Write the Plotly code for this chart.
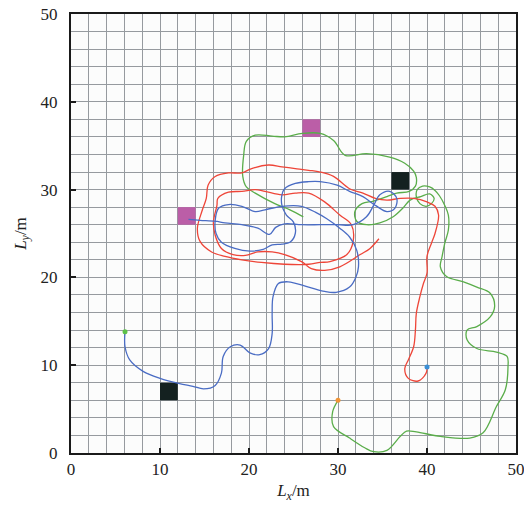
import plotly.graph_objects as go

# ---------------- data ----------------
blue_x = [6.07, 6.07, 6.6, 8.1, 10.0, 12.2, 13.7, 14.9, 16.2, 16.9, 17.1, 17.9, 19.0, 20.1, 21.2, 22.2, 22.6, 22.6,
          22.7, 23.3, 24.4, 26.7, 28.5, 29.8, 31.3, 32.0, 32.3, 32.1, 31.3, 30.2, 28.7, 27.5, 25.9, 23.7, 21.8, 20.7,
          19.2, 17.7, 16.6, 16.2, 16.3, 16.9, 18.4, 20.1, 21.6, 22.6, 23.7, 24.6, 25.2, 25.0, 24.2, 23.7, 23.7, 24.0,
          25.2, 26.7, 28.0, 29.9, 31.3, 32.8, 34.2, 35.5, 36.4, 36.6, 35.8, 34.7, 34.0, 33.2, 31.7, 30.0, 28.0, 25.9,
          24.0, 23.0, 22.3, 21.0, 19.2, 17.3, 16.2, 14.5, 13.2]
blue_y = [13.8, 12.1, 10.6, 9.3, 8.5, 7.9, 7.6, 7.3, 7.7, 9.1, 11.0, 12.1, 12.3, 11.4, 11.2, 11.9, 13.6, 15.9,
          17.8, 19.3, 19.5, 18.9, 18.4, 18.3, 18.9, 20.0, 21.2, 23.1, 24.6, 25.6, 26.7, 27.4, 28.1, 28.1, 27.7, 27.5,
          28.1, 28.3, 27.9, 26.5, 25.0, 24.0, 23.3, 23.0, 23.2, 23.7, 23.8, 24.0, 25.0, 26.3, 27.1, 28.2, 29.4, 30.1,
          30.7, 30.9, 30.9, 30.5, 29.8, 29.2, 28.2, 27.5, 27.9, 29.0, 29.8, 29.4, 28.2, 26.9, 26.0, 26.0, 26.0, 26.0,
          26.1, 25.7, 24.9, 25.6, 26.0, 26.2, 26.4, 26.5, 26.6]

red_x = [40.0, 39.9, 39.0, 37.9, 37.5, 37.9, 38.5, 38.7, 38.8, 39.2, 39.6, 40.0, 40.0, 40.5, 40.9, 41.3, 40.9, 40.0,
         38.5, 37.0, 35.5, 34.2, 32.8, 31.3, 29.5, 28.0, 26.7, 25.2, 23.7, 22.2, 20.3, 19.2, 17.7, 16.2, 15.4, 15.2,
         14.7, 14.2, 14.5, 15.8, 17.3, 19.2, 21.4, 24.0, 26.7, 28.0, 29.1, 31.0, 31.7, 31.5, 30.2, 28.5, 26.7, 25.2,
         23.7, 21.8, 20.7, 19.2, 17.7, 16.5, 16.4, 16.0, 16.2, 16.9, 18.2, 19.6, 21.0, 22.6, 24.0, 25.9, 27.0, 28.5,
         30.2, 32.5, 33.6, 34.6]
red_y = [9.8, 9.1, 8.2, 8.5, 9.6, 10.6, 12.1, 14.0, 15.9, 17.8, 19.3, 20.5, 22.4, 23.9, 25.0, 27.1, 28.1, 28.6,
         29.0, 29.0, 28.8, 29.0, 29.6, 30.1, 31.5, 32.0, 32.2, 32.4, 32.6, 32.8, 32.4, 31.9, 31.9, 31.5, 30.5, 29.0,
         27.5, 25.6, 24.1, 22.9, 22.4, 22.0, 21.7, 21.5, 21.5, 21.7, 21.8, 22.6, 24.1, 26.0, 27.1, 28.6, 29.6, 29.6,
         29.4, 29.8, 30.0, 29.8, 29.7, 29.0, 28.2, 26.3, 24.8, 23.3, 22.6, 22.5, 22.9, 22.9, 22.6, 21.8, 21.0, 20.8,
         21.2, 22.6, 23.3, 24.4]

green_x = [30.0, 29.4, 29.5, 31.3, 33.0, 34.0, 35.5, 37.0, 37.7, 38.8, 41.5, 44.8, 46.3, 47.8, 48.8, 49.1, 49.0,
           47.8, 45.6, 44.5, 44.5, 45.6, 47.1, 47.6, 47.1, 45.6, 44.1, 42.2, 41.5, 41.7, 42.0, 42.4, 42.4, 42.0, 41.4,
           40.9, 40.3, 39.5, 38.9, 38.8, 39.2, 39.9, 40.5, 40.8, 40.3, 39.3, 38.1, 37.3, 36.2, 34.7, 33.2, 32.1, 31.9,
           32.7, 34.0, 35.5, 36.6, 38.0, 38.7, 38.8, 38.5, 37.5, 35.8, 33.2, 30.8, 29.5, 28.0, 26.0, 24.0, 22.6, 20.7,
           19.7, 19.4, 19.3, 19.7, 20.7, 22.9, 24.6, 26.1]
green_y = [6.0, 4.7, 3.0, 1.7, 0.6, 0.15, 0.3, 1.9, 2.5, 2.4, 1.9, 1.7, 2.3, 5.3, 7.2, 9.8, 11.0,
           11.5, 11.9, 12.9, 14.0, 14.4, 15.5, 16.7, 18.2, 18.9, 19.5, 20.1, 21.2, 22.4, 23.9, 25.4, 27.1, 28.2, 29.3,
           29.9, 30.3, 30.4, 30.0, 29.2, 28.4, 28.1, 28.4, 29.0, 29.5, 29.2, 28.8, 27.9, 26.9, 26.2, 26.0, 26.4, 27.5,
           28.4, 28.7, 29.2, 29.6, 29.8, 30.4, 31.4, 32.1, 33.0, 33.7, 34.1, 33.9, 35.6, 36.4, 36.4, 36.0, 36.1, 36.2,
           35.5, 33.9, 31.5, 30.3, 29.6, 28.4, 27.7, 26.9]

# start points (x, y)
start_x = [6.07, 30.0, 40.0]
start_y = [13.8, 6.0, 9.8]

# square cells (centres), side 2 m
target_x = [13.0, 27.0]
target_y = [27.0, 37.0]
obstacle_x = [11.0, 37.0]
obstacle_y = [7.0, 31.0]
cell = 2.0

x_ticks = [0, 10, 20, 30, 40, 50]
y_ticks = [0, 10, 20, 30, 40, 50]

# ---------------- figure ----------------
fig = go.Figure()

shapes = []
for cx, cy in zip(target_x, target_y):
    shapes.append(dict(type="rect", xref="x", yref="y", x0=cx - cell / 2, x1=cx + cell / 2,
                       y0=cy - cell / 2, y1=cy + cell / 2, fillcolor="#bb5ea7",
                       line=dict(width=0), layer="between"))
for cx, cy in zip(obstacle_x, obstacle_y):
    shapes.append(dict(type="rect", xref="x", yref="y", x0=cx - cell / 2, x1=cx + cell / 2,
                       y0=cy - cell / 2, y1=cy + cell / 2, fillcolor="#142120",
                       line=dict(width=0), layer="between"))

fig.add_trace(go.Scatter(x=green_x, y=green_y, mode="lines",
                         line=dict(color="#5aad4a", width=1.3, shape="spline", smoothing=1.0)))
fig.add_trace(go.Scatter(x=red_x, y=red_y, mode="lines",
                         line=dict(color="#ee4538", width=1.3, shape="spline", smoothing=1.0)))
fig.add_trace(go.Scatter(x=blue_x, y=blue_y, mode="lines",
                         line=dict(color="#4a6cc4", width=1.3, shape="spline", smoothing=1.0)))
fig.add_trace(go.Scatter(x=start_x, y=start_y, mode="markers",
                         marker=dict(color=["#5cc048", "#f09436", "#3a8fd6"], size=5, line=dict(width=0))))

grid_col = "#969a9f"
tick_font = dict(family="Liberation Serif", size=17, color="#222")
title_font = dict(family="Liberation Serif", size=17, color="#222")
axis_common = dict(
    range=[0, 50], tickmode="array",
    showgrid=True, gridcolor=grid_col, gridwidth=1,
    showline=True, linecolor="#1a1a1a", linewidth=2, mirror=True,
    ticks="inside", ticklen=5, tickwidth=1.5, tickcolor="#1a1a1a",
    zeroline=False, automargin=False, ticklabeloverflow="allow",
    tickfont=tick_font,
    minor=dict(dtick=2, tick0=0, showgrid=True, gridcolor=grid_col, gridwidth=1, ticks=""),
)

# page body adds an 8 px offset, so the figure is drawn 8 px smaller
fig.update_layout(
    width=524, height=497,
    margin=dict(l=63, r=16, t=6, b=52),
    paper_bgcolor="white", plot_bgcolor="#fcfcfc",
    showlegend=False,
    shapes=shapes,
    xaxis=dict(tickvals=x_ticks, ticklabelstandoff=0,
               title=dict(text="<i>L</i><sub><i>x</i></sub>/m", standoff=6, font=title_font),
               **axis_common),
    yaxis=dict(tickvals=y_ticks, ticklabelstandoff=8,
               title=dict(text="<i>L</i><sub><i>y</i></sub>/m", standoff=10, font=title_font),
               **axis_common),
)

fig.write_html("out.html")
